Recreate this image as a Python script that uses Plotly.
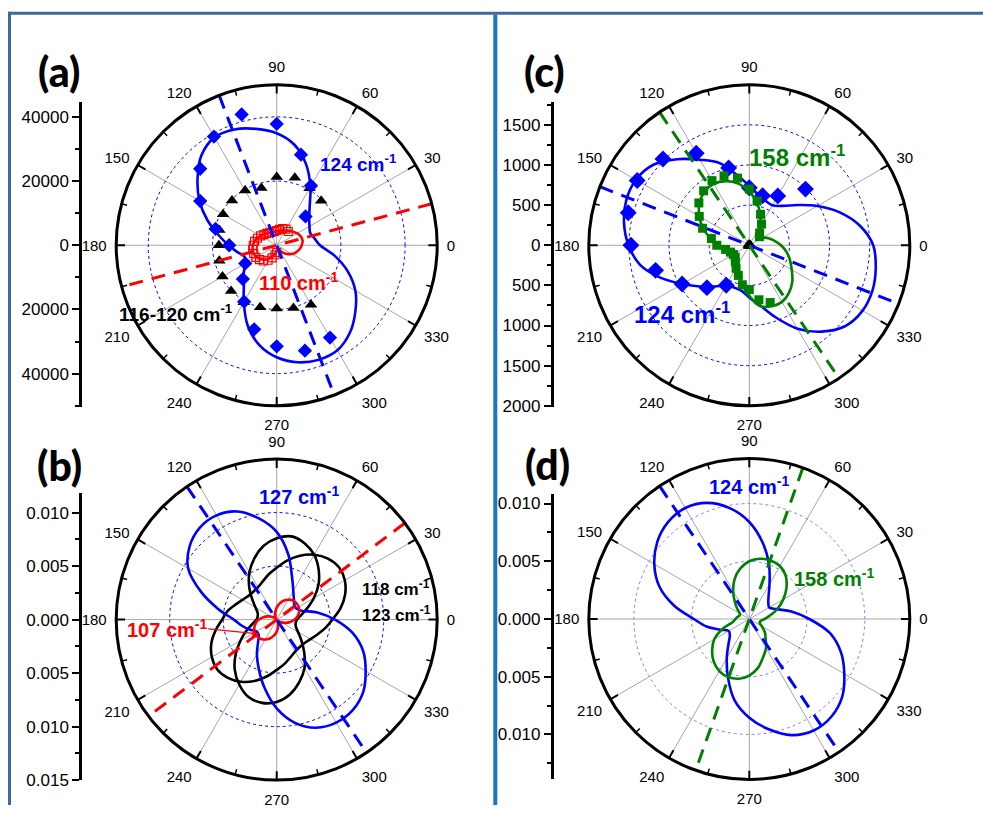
import plotly.graph_objects as go

W, H = 983, 815
R_PX = 162.5
FONT = "Liberation Sans, Arial, sans-serif"
BLUE, RED, GREEN, BLACK = "#0000ff", "#ff0000", "#008000", "#000000"

THETA = [0, 10, 20, 30, 40, 50, 60, 70, 80, 90, 100, 110, 120, 130, 140, 150, 160, 170,
         180, 190, 200, 210, 220, 230, 240, 250, 260, 270, 280, 290, 300, 310, 320, 330, 340, 350]
TICK_ANG = [0, 30, 60, 90, 120, 150, 180, 210, 240, 270, 300, 330]
MINOR_ANG = [15, 45, 75, 105, 135, 165, 195, 225, 255, 285, 315, 345]

# ---------------- panel (a) ----------------
A_RMAX = 50000
A_GRID = [20000, 40000]
A_BLUE_FIT = [13500, 12000, 11100, 11800, 13200, 16000, 21000, 26800, 31800, 34900, 36800, 38400,
              38800, 36500, 32200, 27800, 23000, 18400, 15000, 12400, 10600, 11300, 13400, 15900,
              20500, 26500, 31500, 34900, 37000, 38000, 37800, 35500, 32000, 28300, 23500, 18200]
A_RED_FIT = [7800, 8200, 8000, 7400, 6600, 5900, 5300, 4900, 4600, 4400, 4300, 4300,
             4500, 4800, 5300, 5900, 6500, 7000, 7400, 7600, 7600, 7300, 6700, 5900,
             4900, 3800, 2700, 1800, 1300, 1400, 2000, 3000, 4200, 5400, 6400, 7200]
A_BLUE_PTS_T = [45, 60, 75, 90, 105, 120, 135, 150, 165, 180, 210, 225, 240, 255, 270, 285, 300]
A_BLUE_PTS_R = [12700, 21400, 29200, 37800, 42200, 39100, 33700, 27500, 19700, 14800, 11300, 14900,
                20300, 27100, 31500, 34000, 33200]
A_TRI_T = [45, 60, 75, 90, 105, 120, 135, 150, 165, 180, 195, 210, 225, 240, 255, 270, 285, 300]
A_TRI_R = [19600, 20500, 21800, 21300, 18500, 19700, 19700, 19300, 18500, 18000, 18500, 19500,
           20100, 20500, 20000, 19700, 20200, 21400]
A_SQ_T = [50, 60, 70, 80, 90, 100, 110, 120, 130, 140, 150, 160, 170, 180, 190, 200, 210, 220,
          230, 240, 250, 260, 270]
A_SQ_R = [5600, 5800, 5500, 5000, 4600, 4400, 4400, 4500, 4800, 5200, 5800, 6400, 7000, 7300,
          7600, 7600, 7500, 7000, 6400, 5400, 4200, 3000, 2200]
A_AXIS_BLUE = 111
A_AXIS_RED = 15
A_LEFT_TICKS = [40000, 20000, 0, -20000, -40000]
A_LEFT_TEXT = ["40000", "20000", "0", "20000", "40000"]

# ---------------- panel (b) ----------------
B_RMAX = 0.015
B_GRID = [0.005, 0.010]
B_BLUE_FIT = [0.00545, 0.00385, 0.00245, 0.00210, 0.00215, 0.00250, 0.00310, 0.00420, 0.00620,
              0.00820, 0.00960, 0.01075, 0.01125, 0.01120, 0.01063, 0.00955, 0.00750, 0.00550,
              0.00400, 0.00330, 0.00270, 0.00220, 0.00220, 0.00270, 0.00370, 0.00490, 0.00650,
              0.00830, 0.00980, 0.01075, 0.01112, 0.01105, 0.01055, 0.00960, 0.00860, 0.00720]
B_RED_FIT = [0.00167, 0.00200, 0.00223, 0.00237, 0.00240, 0.00234, 0.00215, 0.00188, 0.00152,
             0.00112, 0.00073, 0.00040, 0.00018, 0.00010, 0.00025, 0.00052, 0.00088, 0.00128,
             0.00167, 0.00200, 0.00223, 0.00237, 0.00240, 0.00234, 0.00215, 0.00188, 0.00152,
             0.00112, 0.00073, 0.00040, 0.00018, 0.00010, 0.00025, 0.00052, 0.00088, 0.00128]
B_BLACK1_FIT = [0.0019, 0.0023, 0.0030, 0.0040, 0.0051, 0.0061, 0.0070, 0.0076, 0.0079, 0.0076,
                0.0070, 0.0061, 0.0051, 0.0040, 0.0030, 0.0023, 0.0019, 0.0018, 0.0019, 0.0023,
                0.0030, 0.0039, 0.0050, 0.0061, 0.0070, 0.0077, 0.0079, 0.0077, 0.0071, 0.0062,
                0.0052, 0.0040, 0.0030, 0.0023, 0.0019, 0.0018]
B_BLACK2_FIT = [0.00520, 0.00605, 0.00680, 0.00735, 0.00760, 0.00745, 0.00700, 0.00635, 0.00560,
                0.00485, 0.00430, 0.00380, 0.00350, 0.00340, 0.00345, 0.00370, 0.00410, 0.00465,
                0.00510, 0.00580, 0.00650, 0.00700, 0.00725, 0.00710, 0.00670, 0.00610, 0.00540,
                0.00470, 0.00420, 0.00375, 0.00345, 0.00335, 0.00340, 0.00365, 0.00405, 0.00460]
B_AXIS_BLUE = 124
B_AXIS_RED = 37
B_LEFT_TICKS = [0.010, 0.005, 0.0, -0.005, -0.010, -0.015]
B_LEFT_TEXT = ["0.010", "0.005", "0.000", "0.005", "0.010", "0.015"]

# ---------------- panel (c) ----------------
C_RMAX = 2000
C_GRID = [500, 1000, 1500]
C_BLUE_FIT = [1544, 1400, 1200, 980, 780, 640, 575, 590, 640, 740, 890, 1090, 1230, 1400, 1560,
              1632, 1632, 1585, 1505, 1385, 1180, 965, 800, 670, 580, 560, 575, 650, 760, 955,
              1200, 1405, 1565, 1630, 1635, 1600]
C_GREEN_FIT = [395, 320, 255, 195, 160, 205, 280, 400, 540, 670, 780, 850, 885, 870, 810, 720,
               610, 490, 380, 300, 265, 250, 255, 270, 290, 370, 500, 630, 770, 810, 815, 770,
               700, 610, 540, 470]
C_BLUE_PTS_T = [45, 60, 75, 90, 105, 120, 135, 150, 165, 180, 195, 210, 225, 240]
C_BLUE_PTS_R = [990, 710, 638, 717, 996, 1323, 1521, 1613, 1562, 1475, 1209, 967, 747, 576]
C_SQ_T = [40, 50, 60, 70, 80, 90, 100, 110, 120, 130, 140, 150, 160, 170, 180, 190, 200, 210,
          220, 230, 240, 250, 260, 270, 280, 290]
C_SQ_R = [165, 200, 305, 410, 560, 700, 850, 920, 930, 885, 820, 720, 620, 480, 405, 300, 250,
          229, 230, 270, 330, 400, 500, 553, 690, 760]
C_TRI_T = [0, 60, 120, 180, 240, 300]
C_TRI_R = [15, 15, 15, 15, 15, 15]
C_AXIS_BLUE = 158.6
C_AXIS_GREEN = 124
C_LEFT_TICKS = [1500, 1000, 500, 0, -500, -1000, -1500, -2000]
C_LEFT_TEXT = ["1500", "1000", "500", "0", "500", "1000", "1500", "2000"]

# ---------------- panel (d) ----------------
D_RMAX = 0.0139
D_GRID = [0.005, 0.010]
D_BLUE_FIT = [0.00520, 0.00370, 0.00250, 0.00200, 0.00215, 0.00260, 0.00350, 0.00500, 0.00670,
              0.00840, 0.00975, 0.01070, 0.01110, 0.01095, 0.01040, 0.00950, 0.00830, 0.00660,
              0.00480, 0.00375, 0.00270, 0.00206, 0.00220, 0.00280, 0.00390, 0.00540, 0.00720,
              0.00855, 0.00970, 0.01070, 0.01115, 0.01105, 0.01050, 0.00950, 0.00845, 0.00710]
D_GREEN_FIT = [0.00130, 0.00185, 0.00260, 0.00340, 0.00420, 0.00490, 0.00530, 0.00540, 0.00530,
               0.00500, 0.00445, 0.00370, 0.00280, 0.00195, 0.00135, 0.00095, 0.00090, 0.00105,
               0.00120, 0.00145, 0.00245, 0.00350, 0.00420, 0.00480, 0.00520, 0.00535, 0.00525,
               0.00490, 0.00430, 0.00350, 0.00290, 0.00220, 0.00175, 0.00125, 0.00095, 0.00100]
D_AXIS_BLUE = 124
D_AXIS_GREEN = 70.5
D_LEFT_TICKS = [0.010, 0.005, 0.0, -0.005, -0.010]
D_LEFT_TEXT = ["0.010", "0.005", "0.000", "0.005", "0.010"]

# ---------------- geometry (pixels) ----------------
PANELS = {
    "polar":  dict(cx=276.7, cy=248.3, rmax=A_RMAX, grid=A_GRID, gcol=BLUE, gw=1.2,
                   ax_x=82, ax_top=103, ax_bot=412, ticks=A_LEFT_TICKS, text=A_LEFT_TEXT, minor=10000, n=""),
    "polar2": dict(cx=276.7, cy=627.3, rmax=B_RMAX, grid=B_GRID, gcol=BLUE, gw=1.2,
                   ax_x=82, ax_top=499, ax_bot=790, ticks=B_LEFT_TICKS, text=B_LEFT_TEXT, minor=0.0025, n="2"),
    "polar3": dict(cx=749.3, cy=248.3, rmax=C_RMAX, grid=C_GRID, gcol=BLUE, gw=1.2,
                   ax_x=553.5, ax_top=103, ax_bot=412, ticks=C_LEFT_TICKS, text=C_LEFT_TEXT, minor=250, n="3"),
    "polar4": dict(cx=749.3, cy=626.7, rmax=D_RMAX, grid=D_GRID, gcol="#8080ff", gw=0.8,
                   ax_x=553.5, ax_top=500, ax_bot=789, ticks=D_LEFT_TICKS, text=D_LEFT_TEXT, minor=0.0025, n="4"),
}

fig = go.Figure()


def closed(vals):
    return list(vals) + [vals[0]]


THETA_C = THETA + [360]


def add_curve(sub, r, color, width=2.6):
    fig.add_trace(go.Scatterpolar(r=closed(r), theta=THETA_C, mode="lines", subplot=sub,
                                  line=dict(color=color, width=width, shape="spline", smoothing=1.0),
                                  showlegend=False, hoverinfo="skip"))


def add_axis_line(sub, ang, rmax, color, dash="14px,9px", width=3):
    fig.add_trace(go.Scatterpolar(r=[rmax, 0, rmax], theta=[ang, ang, ang + 180], mode="lines",
                                  subplot=sub, line=dict(color=color, width=width, dash=dash),
                                  showlegend=False, hoverinfo="skip"))


def add_points(sub, t, r, symbol, color, size, line_w=0):
    fig.add_trace(go.Scatterpolar(r=r, theta=t, mode="markers", subplot=sub,
                                  marker=dict(symbol=symbol, color=color, size=size,
                                              line=dict(color=color, width=line_w)),
                                  showlegend=False, hoverinfo="skip"))


# inward angular ticks (major every 30, minor every 15)
for sub, p in PANELS.items():
    rr, tt = [], []
    for a in MINOR_ANG:
        rr += [p["rmax"] * 0.965, p["rmax"], None]
        tt += [a, a, None]
    fig.add_trace(go.Scatterpolar(r=rr, theta=tt, mode="lines", subplot=sub,
                                  line=dict(color="black", width=1.5), showlegend=False,
                                  hoverinfo="skip"))
    rr, tt = [], []
    for a in TICK_ANG:
        rr += [p["rmax"] * 0.945, p["rmax"], None]
        tt += [a, a, None]
    fig.add_trace(go.Scatterpolar(r=rr, theta=tt, mode="lines", subplot=sub,
                                  line=dict(color="black", width=2), showlegend=False,
                                  hoverinfo="skip"))

# panel (a)
add_curve("polar", A_RED_FIT, RED)
add_points("polar", A_SQ_T, A_SQ_R, "square-open", RED, 8, 1.2)
add_points("polar", A_TRI_T, A_TRI_R, "triangle-up", BLACK, 11)
add_curve("polar", A_BLUE_FIT, BLUE)
add_points("polar", A_BLUE_PTS_T, A_BLUE_PTS_R, "diamond", BLUE, 11)
add_axis_line("polar", A_AXIS_BLUE, A_RMAX, BLUE)
add_axis_line("polar", A_AXIS_RED, A_RMAX, RED)

# panel (b)
add_curve("polar2", B_BLACK1_FIT, BLACK)
add_curve("polar2", B_BLACK2_FIT, BLACK)
add_curve("polar2", B_BLUE_FIT, BLUE)
add_curve("polar2", B_RED_FIT, RED)
add_axis_line("polar2", B_AXIS_BLUE, B_RMAX, BLUE)
add_axis_line("polar2", B_AXIS_RED, B_RMAX, RED)

# panel (c)
add_curve("polar3", C_BLUE_FIT, BLUE)
add_points("polar3", C_BLUE_PTS_T, C_BLUE_PTS_R, "diamond", BLUE, 13)
add_curve("polar3", C_GREEN_FIT, GREEN)
add_points("polar3", C_SQ_T, C_SQ_R, "square", GREEN, 9)
add_points("polar3", C_TRI_T, C_TRI_R, "triangle-up", BLACK, 10)
add_axis_line("polar3", C_AXIS_BLUE, C_RMAX, BLUE)
add_axis_line("polar3", C_AXIS_GREEN, C_RMAX, GREEN)

# panel (d)
add_curve("polar4", D_BLUE_FIT, BLUE)
add_curve("polar4", D_GREEN_FIT, GREEN)
add_axis_line("polar4", D_AXIS_BLUE, D_RMAX, BLUE)
add_axis_line("polar4", D_AXIS_GREEN, D_RMAX, GREEN)

layout = dict(width=W, height=H, margin=dict(l=0, r=0, t=0, b=0), paper_bgcolor="white",
              plot_bgcolor="white", showlegend=False)

for sub, p in PANELS.items():
    cx, cy = p["cx"], p["cy"]
    layout[sub] = dict(
        domain=dict(x=[(cx - R_PX) / W, (cx + R_PX) / W], y=[(H - cy - R_PX) / H, (H - cy + R_PX) / H]),
        bgcolor="white",
        radialaxis=dict(range=[0, p["rmax"]], tickmode="array", tickvals=p["grid"], showticklabels=False,
                        ticks="", showline=False, gridcolor=p["gcol"], griddash="dot", gridwidth=p["gw"]),
        angularaxis=dict(tickmode="array", tickvals=TICK_ANG, ticktext=[str(a) for a in TICK_ANG],
                         direction="counterclockwise", rotation=0, showline=True, linecolor="black",
                         linewidth=3, ticks="outside", ticklen=5, tickwidth=1,
                         tickcolor="rgba(0,0,0,0)",
                         gridcolor="#a6a6a6", gridwidth=1,
                         tickfont=dict(family=FONT, size=15, color="black")),
    )
    # left vertical axis (cartesian)
    n = p["n"]
    scale = p["rmax"] / R_PX
    top_val = (cy - p["ax_top"]) * scale
    bot_val = -(p["ax_bot"] - cy) * scale
    layout["xaxis" + n] = dict(domain=[p["ax_x"] / W, p["ax_x"] / W + 0.01], visible=False,
                               range=[0, 1], anchor="y" + n)
    layout["yaxis" + n] = dict(domain=[(H - p["ax_bot"]) / H, (H - p["ax_top"]) / H],
                               range=[bot_val, top_val], anchor="x" + n, showline=True,
                               linecolor="black", linewidth=2.5, ticks="outside", ticklen=7,
                               tickwidth=2, tickcolor="black", tickmode="array", tickvals=p["ticks"],
                               ticktext=p["text"], showgrid=False, zeroline=False,
                               tickfont=dict(family=FONT, size=17, color="black"),
                               minor=dict(tickmode="linear", tick0=0, dtick=p["minor"], ticks="outside",
                                          ticklen=4, tickwidth=1.5, tickcolor="black", showgrid=False))
    fig.add_trace(go.Scatter(x=[], y=[], xaxis="x" + n, yaxis="y" + n, showlegend=False))

fig.update_layout(**layout)


def px_x(x):
    return x / W


def px_y(y):
    return 1 - y / H


LABELS = [
    ("(a)", 59, 72), ("(b)", 59, 471), ("(c)", 544, 72), ("(d)", 547, 470),
]
for txt, x, y in LABELS:
    fig.add_annotation(text=txt, x=px_x(x), y=px_y(y), xref="paper", yref="paper", showarrow=False,
                       xanchor="center", yanchor="middle",
                       font=dict(family="Lato, Open Sans, sans-serif", size=41, color="black", weight=900))

WAVE = [
    ("124", 318, 165, 19, BLUE), ("110", 257, 285, 20, RED), ("116-120", 117, 317, 19, BLACK),
    ("127", 257, 502, 20, BLUE), ("118", 360, 595, 17, BLACK), ("123", 360, 622, 17, BLACK),
    ("107", 125, 636, 20, RED),
    ("158", 747, 158, 24, GREEN), ("124", 632, 317, 24, BLUE),
    ("124", 707, 492, 20, BLUE), ("158", 792, 585, 20, GREEN),
]
for num, x, y, size, col in WAVE:
    fig.add_annotation(text="<b>%s cm<sup>-1</sup></b>" % num, x=px_x(x), y=px_y(y), xref="paper",
                       yref="paper", showarrow=False, xanchor="left", yanchor="middle",
                       font=dict(family=FONT, size=size, color=col))

# arrow pointing at the 107 cm-1 curve
fig.add_annotation(x=px_x(258.3), y=px_y(641.7), xref="paper", yref="paper", text="",
                   showarrow=True, ax=-51.6, ay=-5, axref="pixel", ayref="pixel",
                   arrowhead=2, arrowsize=1, arrowwidth=1.2, arrowcolor=RED)

# frame lines
FRAME = "#41689b"
fig.add_shape(type="line", xref="paper", yref="paper", x0=px_x(8), x1=1, y0=px_y(13.5), y1=px_y(13.5),
              line=dict(color=FRAME, width=3))
fig.add_shape(type="line", xref="paper", yref="paper", x0=px_x(9.5), x1=px_x(9.5), y0=px_y(12), y1=0,
              line=dict(color=FRAME, width=3))
fig.add_shape(type="line", xref="paper", yref="paper", x0=px_x(495.3), x1=px_x(495.3), y0=px_y(15),
              y1=0, line=dict(color="#1b75c6", width=4))

fig.write_html("out.html")
